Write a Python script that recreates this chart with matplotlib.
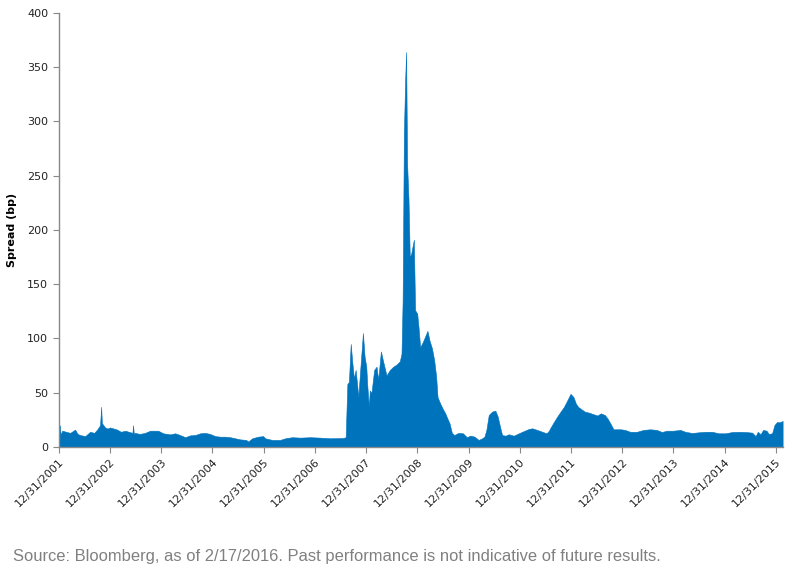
import pandas as pd
import matplotlib
matplotlib.use("Agg")
import matplotlib.pyplot as plt

# spread (bp), approximate
dates = [
    "2002-01-01", "2002-01-08", "2002-01-15", "2002-01-25", "2002-02-22", "2002-03-23",
    "2002-04-27", "2002-05-15", "2002-06-02", "2002-07-08", "2002-08-12", "2002-09-10",
    "2002-10-01", "2002-10-22", "2002-10-30", "2002-11-04", "2002-11-27", "2002-12-15",
    "2003-01-02", "2003-02-21", "2003-03-20", "2003-04-19", "2003-06-10", "2003-06-14",
    "2003-06-20", "2003-06-28", "2003-08-01", "2003-09-08", "2003-10-14", "2003-11-10",
    "2003-12-10",
    "2004-01-15", "2004-03-05", "2004-04-09", "2004-05-15", "2004-06-20", "2004-07-25",
    "2004-08-30", "2004-10-05", "2004-11-09", "2004-12-15",
    "2005-01-20", "2005-02-24", "2005-04-01", "2005-05-07", "2005-06-11", "2005-07-17",
    "2005-08-29", "2005-09-12", "2005-10-11", "2005-11-22", "2005-12-28",
    "2006-01-11", "2006-03-02", "2006-04-28", "2006-06-03", "2006-07-23", "2006-09-18",
    "2006-11-28",
    "2007-02-08", "2007-04-20", "2007-07-22", "2007-08-08", "2007-08-20", "2007-08-31",
    "2007-09-13", "2007-09-25", "2007-10-06", "2007-10-18", "2007-10-30", "2007-11-06",
    "2007-11-18", "2007-11-30", "2007-12-09", "2007-12-21",
    "2008-01-02", "2008-01-08", "2008-01-20", "2008-01-27", "2008-02-08", "2008-02-27",
    "2008-03-15", "2008-03-27", "2008-04-15", "2008-05-01", "2008-05-25", "2008-06-18",
    "2008-07-12", "2008-08-05", "2008-08-28", "2008-09-09", "2008-09-17", "2008-09-26",
    "2008-10-05", "2008-10-12", "2008-10-19", "2008-10-29", "2008-11-07", "2008-11-17",
    "2008-11-27", "2008-12-06", "2008-12-15", "2008-12-30",
    "2009-01-08", "2009-01-20", "2009-02-09", "2009-02-25", "2009-03-13", "2009-03-28",
    "2009-04-14", "2009-04-30", "2009-05-14", "2009-05-24", "2009-06-12", "2009-07-01",
    "2009-07-18", "2009-08-03", "2009-08-17", "2009-09-03", "2009-09-20", "2009-10-20",
    "2009-11-21", "2009-12-19",
    "2010-01-13", "2010-02-11", "2010-03-13", "2010-04-07", "2010-04-23", "2010-05-07",
    "2010-05-24", "2010-06-17", "2010-07-10", "2010-07-27", "2010-08-10", "2010-08-27",
    "2010-09-20", "2010-10-13", "2010-11-18", "2010-12-24",
    "2011-01-30", "2011-03-06", "2011-03-30", "2011-05-05", "2011-06-10", "2011-07-10",
    "2011-07-27", "2011-08-08", "2011-08-31", "2011-09-24", "2011-10-18", "2011-11-11",
    "2011-12-05", "2011-12-28",
    "2012-01-18", "2012-02-04", "2012-02-20", "2012-03-15", "2012-04-08", "2012-05-08",
    "2012-06-13", "2012-07-07", "2012-07-31", "2012-08-28", "2012-09-16", "2012-10-10",
    "2012-10-29", "2012-11-27", "2012-12-20",
    "2013-01-20", "2013-02-25", "2013-04-14", "2013-05-31", "2013-07-17", "2013-09-03",
    "2013-10-09", "2013-11-13", "2013-12-30",
    "2014-02-18", "2014-03-25", "2014-05-12", "2014-06-28", "2014-08-15", "2014-10-02",
    "2014-11-18",
    "2015-01-06", "2015-02-23", "2015-04-11", "2015-05-29", "2015-07-15", "2015-08-08",
    "2015-08-24", "2015-09-12", "2015-10-01", "2015-10-25", "2015-11-10", "2015-12-04",
    "2015-12-21",
    "2016-01-08", "2016-01-27", "2016-02-17",
]
spread = [
    14, 20, 11, 15, 14, 13,
    16, 12, 11, 10, 14, 13,
    16, 20, 37, 22, 18, 17,
    18, 16, 14, 15, 13, 20,
    12, 13, 12, 13, 15, 15,
    15,
    12.6, 11.6, 12.6, 11, 9, 10.7,
    11, 12.6, 13, 12,
    10, 9.5, 9.5, 9, 8, 7,
    6.5, 5, 8, 9.5, 10,
    8, 6.5, 6.5, 8, 9, 8.6,
    9,
    8.6, 8, 8.3, 9, 58, 60,
    95, 77, 63, 71, 56, 46,
    68, 89, 105, 83,
    74, 59, 37, 52, 50, 71,
    74, 62, 88, 79, 66, 71,
    74, 76, 79, 86, 135, 289,
    338, 364, 261, 228, 175, 178,
    185, 191, 126, 123,
    111, 92, 97, 102, 107, 98,
    91, 80, 65, 46, 40, 35,
    31, 26, 22, 13, 11, 13,
    12.6, 9,
    10.5, 9.5, 6.5, 8, 9.5, 15.7,
    29.5, 32.6, 33.5, 28, 20, 11,
    10.4, 11.7, 10.4, 12.6,
    14.7, 16.6, 17.2, 15.7, 14, 12.6,
    15, 18, 23, 28, 32.6, 37,
    43, 49,
    46, 40, 37, 34.7, 32.6, 31.6,
    30, 29, 31, 29.5, 26.4, 21,
    16.3, 16.3, 16.3,
    15.7, 14, 14, 15.7, 16.3, 15.7,
    13.8, 15, 15,
    15.7, 14, 12.9, 13.5, 14, 14,
    12.6,
    12.6, 13.8, 14, 13.8, 13.2, 10,
    14, 11.7, 15.7, 15, 12, 12.6,
    20.3,
    23, 22.7, 24,
]
yticks = [0, 50, 100, 150, 200, 250, 300, 350, 400]
tick_years = list(range(2001, 2016))
source_note = "Source: Bloomberg, as of 2/17/2016. Past performance is not indicative of future results."

x = pd.to_datetime(dates)

fig = plt.figure(figsize=(7.96, 5.74), dpi=100)
ax = fig.add_axes([0.0737, 0.2213, 0.9095, 0.7561])

ax.fill_between(x, spread, 0, color="#0073BD", linewidth=0.4, edgecolor="#0073BD")

ax.set_xlim(pd.Timestamp("2001-12-31"), pd.Timestamp("2016-02-17"))
ax.set_ylim(0, 400)
ax.set_yticks(yticks)

tick_dates = [pd.Timestamp(f"{yr}-12-31") for yr in tick_years]
ax.set_xticks(tick_dates)
ax.set_xticklabels([f"12/31/{yr}" for yr in tick_years], rotation=45, ha="right",
                   rotation_mode="anchor", fontsize=8, color="#222222")
ax.tick_params(axis="y", labelsize=8, labelcolor="#222222", color="#888888", length=4, width=0.8)
ax.tick_params(axis="x", color="#888888", length=4, width=0.8, pad=3)

for side in ["top", "right"]:
    ax.spines[side].set_visible(False)
for side in ["left", "bottom"]:
    ax.spines[side].set_color("#888888")
    ax.spines[side].set_linewidth(1.0)

ax.set_ylabel("Spread (bp)", fontsize=8, fontweight="bold", labelpad=7)

fig.text(13 / 796, 1 - 556 / 574, source_note, fontsize=11.9, color="#808080",
         family="Liberation Sans", va="center", ha="left")

fig.savefig("out.png", dpi=100)
